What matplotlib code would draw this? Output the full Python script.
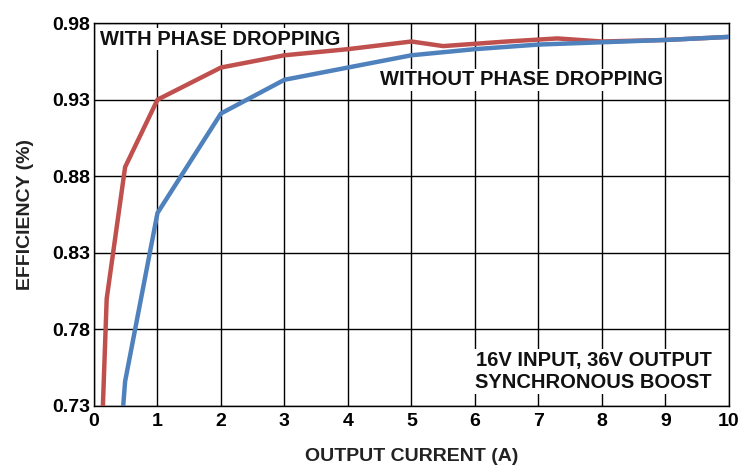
import matplotlib.pyplot as plt
import numpy as np

plt.rcParams['font.family'] = ['Liberation Sans', 'DejaVu Sans']
plt.rcParams['font.weight'] = 'bold'

# datos
i_with = [0.14, 0.2, 0.49, 1.0, 2.0, 3.0, 4.0, 5.0, 5.5, 6.5, 7.3, 8.0, 9.0, 10.0]
eff_with = [0.73, 0.80, 0.886, 0.930, 0.951, 0.959, 0.963, 0.968, 0.965, 0.968, 0.970, 0.968, 0.969, 0.971]
i_without = [0.46, 0.49, 1.0, 2.0, 3.0, 4.0, 5.0, 6.0, 7.0, 8.0, 9.0, 10.0]
eff_without = [0.73, 0.746, 0.856, 0.921, 0.943, 0.951, 0.959, 0.963, 0.966, 0.9675, 0.969, 0.971]
xticks = list(range(0, 11))
yticks = [0.73, 0.78, 0.83, 0.88, 0.93, 0.98]

fig = plt.figure(figsize=(7.46, 4.72), dpi=100)
ax = fig.add_axes([0.126, 0.140, 0.851, 0.811])

ax.plot(i_with, eff_with, color='#C0504D', lw=3.2, solid_joinstyle='round', zorder=3)
ax.plot(i_without, eff_without, color='#4F81BD', lw=3.2, solid_joinstyle='round', zorder=4)

ax.set_xlim(0, 10)
ax.set_ylim(0.73, 0.98)
ax.set_xticks(xticks)
ax.set_yticks(yticks)
ax.set_yticklabels(['%.2f' % v for v in yticks])
ax.grid(True, color='black', lw=1.0)
ax.tick_params(length=0, labelsize=14, pad=5)
ax.tick_params(axis='y', pad=3)
for s in ax.spines.values():
    s.set_color('black')
    s.set_linewidth(1.0)

ax.set_xlabel('OUTPUT CURRENT (A)', fontsize=14, fontweight='bold', color='#222222', labelpad=13)
ax.set_ylabel('EFFICIENCY (%)', fontsize=14, fontweight='bold', color='#222222', labelpad=13)

box = dict(facecolor='white', edgecolor='none', pad=1)
ax.text(0.1, 0.9695, 'WITH PHASE DROPPING', fontsize=14.5, color='#111111',
        va='center', ha='left', bbox=box, zorder=2)
ax.text(4.5, 0.943, 'WITHOUT PHASE DROPPING', fontsize=14.5, color='#111111',
        va='center', ha='left', bbox=box, zorder=2)
ax.text(9.73, 0.7525, '16V INPUT, 36V OUTPUT\nSYNCHRONOUS BOOST', fontsize=14.5,
        color='#111111', va='center', ha='right', linespacing=1.25, bbox=box, zorder=2)

fig.savefig('out.png', dpi=100)
